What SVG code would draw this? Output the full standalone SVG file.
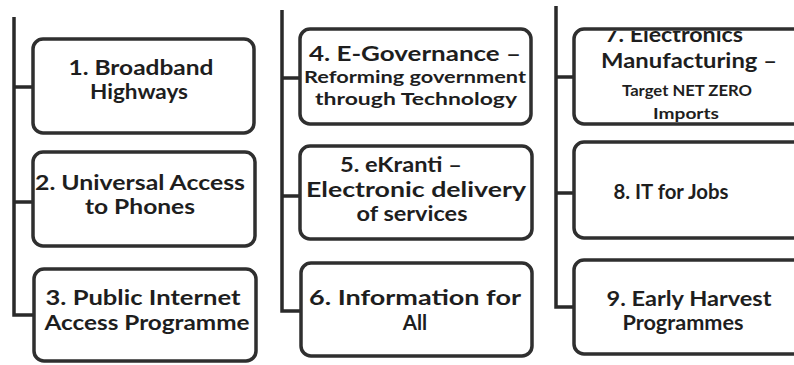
<svg xmlns="http://www.w3.org/2000/svg" width="794" height="365" viewBox="0 0 794 365">
  <defs>
    <style>
      .box { fill: #ffffff; stroke: #2f2f2f; stroke-width: 3.5; }
      .edge { fill: none; stroke: #2f2f2f; stroke-width: 3.5; }
      .wire { fill: none; stroke: #2a2a2a; stroke-width: 3.5; stroke-linejoin: miter; }
      text { font-family: Lato, "Open Sans", "Liberation Sans", sans-serif; font-weight: 700; fill: #1e1e1e; text-anchor: middle; }
      .lg { font-size: 20.5px; }
      .md { font-size: 17.5px; }
      .sm { font-size: 15px; }
    </style>
    <!-- keeps the first line of item 7 inside its box -->
    <clipPath id="clip7">
      <rect x="574" y="31" width="240" height="100"/>
    </clipPath>
  </defs>

  <rect x="0" y="0" width="794" height="365" fill="#ffffff"/>

  <!-- spines with their branches -->
  <g id="connectors">
    <path class="wire" d="M14,17 V315 H33 M14,87 H33 M14,202 H33"/>
    <path class="wire" d="M282,10 V311 H300 M282,78 H300 M282,196 H300"/>
    <path class="wire" d="M556,6 V307 H574 M556,77 H574 M556,193 H574"/>
  </g>

  <!-- column 1 -->
  <g id="n1">
    <rect class="box" x="33" y="39" width="221" height="94" rx="10"/>
    <text class="lg" x="141" y="75" textLength="145" lengthAdjust="spacingAndGlyphs">1. Broadband</text>
    <text class="lg" x="139" y="99" textLength="98" lengthAdjust="spacingAndGlyphs">Highways</text>
  </g>
  <g id="n2">
    <rect class="box" x="33" y="152" width="222" height="94" rx="10"/>
    <text class="lg" x="140" y="190" textLength="210" lengthAdjust="spacingAndGlyphs">2. Universal Access</text>
    <text class="lg" x="140" y="214" textLength="110" lengthAdjust="spacingAndGlyphs">to Phones</text>
  </g>
  <g id="n3">
    <rect class="box" x="34" y="269" width="222" height="92" rx="10"/>
    <text class="lg" x="143" y="305" textLength="195" lengthAdjust="spacingAndGlyphs">3. Public Internet</text>
    <text class="lg" x="147" y="330" textLength="205" lengthAdjust="spacingAndGlyphs">Access Programme</text>
  </g>

  <!-- column 2 -->
  <g id="n4">
    <rect class="box" x="300" y="29" width="231" height="95" rx="10"/>
    <text class="lg" x="415" y="61" textLength="212" lengthAdjust="spacingAndGlyphs">4. E-Governance –</text>
    <text class="md" x="415" y="83" textLength="222" lengthAdjust="spacingAndGlyphs">Reforming government</text>
    <text class="md" x="416" y="105" textLength="202" lengthAdjust="spacingAndGlyphs">through Technology</text>
  </g>
  <g id="n5">
    <rect class="box" x="300" y="146" width="232" height="93" rx="10"/>
    <text class="lg" x="401" y="172" textLength="122" lengthAdjust="spacingAndGlyphs">5. eKranti –</text>
    <text class="lg" x="416" y="197" textLength="220" lengthAdjust="spacingAndGlyphs">Electronic delivery</text>
    <text class="lg" x="412" y="221" textLength="111" lengthAdjust="spacingAndGlyphs">of services</text>
  </g>
  <g id="n6">
    <rect class="box" x="301" y="263" width="231" height="93" rx="10"/>
    <text class="lg" x="415" y="305" textLength="212" lengthAdjust="spacingAndGlyphs">6. Information for</text>
    <text class="lg" x="415" y="330">All</text>
  </g>

  <!-- column 3: boxes run past the right edge -->
  <g id="n7">
    <rect x="574" y="29" width="240" height="95" rx="10" fill="#ffffff"/>
    <text class="lg" x="674" y="42" textLength="138" lengthAdjust="spacingAndGlyphs" clip-path="url(#clip7)">7. Electronics</text>
    <text class="lg" x="689" y="68" textLength="176" lengthAdjust="spacingAndGlyphs">Manufacturing –</text>
    <text class="sm" x="687" y="96" textLength="130" lengthAdjust="spacingAndGlyphs">Target NET ZERO</text>
    <text class="sm" x="686" y="119" textLength="66" lengthAdjust="spacingAndGlyphs">Imports</text>
    <rect class="edge" x="574" y="29" width="240" height="95" rx="10"/>
  </g>
  <g id="n8">
    <rect class="box" x="574" y="142" width="240" height="96" rx="10"/>
    <text class="lg" x="671" y="199" textLength="115" lengthAdjust="spacingAndGlyphs">8. IT for Jobs</text>
  </g>
  <g id="n9">
    <rect class="box" x="574" y="260" width="240" height="94" rx="10"/>
    <text class="lg" x="689" y="306" textLength="165" lengthAdjust="spacingAndGlyphs">9. Early Harvest</text>
    <text class="lg" x="683" y="330" textLength="121" lengthAdjust="spacingAndGlyphs">Programmes</text>
  </g>
</svg>
